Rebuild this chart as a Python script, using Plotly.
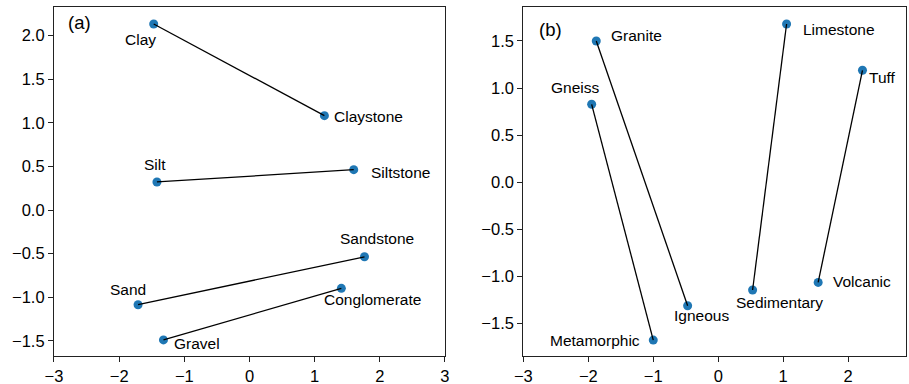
import plotly.graph_objects as go

# ---- data ----
left_names = ["Clay", "Claystone", "Silt", "Siltstone", "Sand", "Sandstone", "Gravel", "Conglomerate"]
left_x = [-1.47, 1.15, -1.42, 1.60, -1.71, 1.765, -1.32, 1.41]
left_y = [2.134, 1.083, 0.322, 0.463, -1.086, -0.536, -1.49, -0.898]
left_pairs = [("Clay", "Claystone"), ("Silt", "Siltstone"), ("Sand", "Sandstone"), ("Gravel", "Conglomerate")]

right_names = ["Granite", "Igneous", "Gneiss", "Metamorphic", "Limestone", "Sedimentary", "Tuff", "Volcanic"]
right_x = [-1.877, -0.471, -1.948, -1.0, 1.052, 0.529, 2.22, 1.538]
right_y = [1.50, -1.31, 0.828, -1.674, 1.68, -1.143, 1.189, -1.062]
right_pairs = [("Granite", "Igneous"), ("Gneiss", "Metamorphic"), ("Limestone", "Sedimentary"), ("Tuff", "Volcanic")]

xtick_vals = [-3, -2, -1, 0, 1, 2, 3]
left_ytick_vals = [-1.5, -1.0, -0.5, 0.0, 0.5, 1.0, 1.5, 2.0]
right_ytick_vals = [-1.5, -1.0, -0.5, 0.0, 0.5, 1.0, 1.5]

# label placement (pixel offsets, anchor)
label_style = {
    "Clay": (-13, -15, "center"),
    "Claystone": (8, -1, "left"),
    "Silt": (-2, 17, "center"),
    "Siltstone": (15, -3, "left"),
    "Sandstone": (13, 18, "center"),
    "Sand": (-10, 15, "center"),
    "Conglomerate": (31, -11, "center"),
    "Gravel": (9, -4, "left"),
    "Granite": (13, 5, "left"),
    "Gneiss": (-17, 17, "center"),
    "Limestone": (14, -5, "left"),
    "Tuff": (5, -7, "left"),
    "Metamorphic": (-11, 0, "right"),
    "Igneous": (14, -10, "center"),
    "Sedimentary": (27, -12, "center"),
    "Volcanic": (13, 1, "left"),
}

FONT = "Liberation Sans, Arial, sans-serif"
BLUE = "#1f77b4"

fig = go.Figure()

def add_panel(names, xs, ys, pairs, xa, ya):
    idx = {n: i for i, n in enumerate(names)}
    fig.add_trace(go.Scatter(x=xs, y=ys, mode="markers", xaxis=xa, yaxis=ya,
                             marker=dict(color=BLUE, size=9), showlegend=False, hoverinfo="text", text=names))
    for a, b in pairs:
        fig.add_trace(go.Scatter(x=[xs[idx[a]], xs[idx[b]]], y=[ys[idx[a]], ys[idx[b]]], mode="lines",
                                 xaxis=xa, yaxis=ya, line=dict(color="black", width=1.3),
                                 showlegend=False, hoverinfo="skip"))
    for n in names:
        dx, dy, anc = label_style[n]
        fig.add_annotation(x=xs[idx[n]], y=ys[idx[n]], xref=xa, yref=ya, text=n, showarrow=False,
                           xshift=dx, yshift=dy, xanchor=anc, yanchor="middle",
                           font=dict(family=FONT, size=15.5, color="black"))

add_panel(left_names, left_x, left_y, left_pairs, "x", "y")
add_panel(right_names, right_x, right_y, right_pairs, "x2", "y2")

axis_common = dict(showline=True, linecolor="#222", linewidth=1.2, mirror=True, ticks="outside",
                   ticklen=5, tickwidth=1.1, tickcolor="#222", showgrid=False, zeroline=False,
                   automargin=False, tickfont=dict(family=FONT, size=16.5, color="black"))

fig.update_layout(
    width=909, height=384, margin=dict(l=0, r=0, t=0, b=0),
    plot_bgcolor="white", paper_bgcolor="white",
    xaxis=dict(domain=[0.0594, 0.4895], range=[-3, 3], tickvals=xtick_vals, anchor="y", **axis_common),
    yaxis=dict(domain=[0.0737, 0.9826], range=[-1.671, 2.333], tickvals=left_ytick_vals,
               tickformat=".1f", anchor="x", **axis_common),
    xaxis2=dict(domain=[0.5757, 0.9967], range=[-3, 2.89], tickvals=xtick_vals, anchor="y2", **axis_common),
    yaxis2=dict(domain=[0.0737, 0.9826], range=[-1.84, 1.864], tickvals=right_ytick_vals,
                tickformat=".1f", anchor="x2", **axis_common),
    showlegend=False,
)

fig.add_annotation(x=0.03, y=0.955, xref="x domain", yref="y domain", text="(a)", showarrow=False,
                   xanchor="left", yanchor="middle", font=dict(family=FONT, size=18.5, color="black"))
fig.add_annotation(x=0.035, y=0.935, xref="x2 domain", yref="y2 domain", text="(b)", showarrow=False,
                   xanchor="left", yanchor="middle", font=dict(family=FONT, size=18.5, color="black"))

fig.write_html("out.html")
